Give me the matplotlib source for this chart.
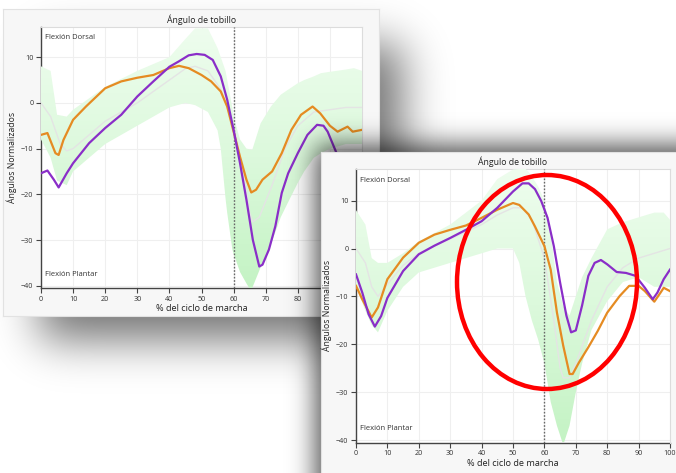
import math
import numpy as np
import matplotlib
matplotlib.use("Agg")
import matplotlib.pyplot as plt
from matplotlib.patches import Ellipse
from matplotlib.colors import LinearSegmentedColormap

# ---------------- data ----------------
title = "Ángulo de tobillo"
xlabel = "% del ciclo de marcha"
ylabel = "Ángulos Normalizados"
label_top = "Flexión Dorsal"
label_bottom = "Flexión Plantar"
xticks = [0, 10, 20, 30, 40, 50, 60, 70, 80, 90, 100]
yticks = [-40, -30, -20, -10, 0, 10]
toe_off = 60
# the back chart's last x tick labels are hidden behind the front chart
c1_xticklabels = ["0", "10", "20", "30", "40", "50", "60", "70", "80", "", ""]
c2_xticklabels = ["0", "10", "20", "30", "40", "50", "60", "70", "80", "90", "100"]

# chart 1 (back)
c1_orange_x = [0, 2, 4.5, 5.5, 7, 10, 14, 20, 25, 30, 35, 40, 43, 46, 50, 53, 56, 58, 60, 62, 64, 65.5, 67, 69, 72, 75, 78, 81, 84.6, 87, 90, 92.4, 95.5, 97.1, 100]
c1_orange_y = [-7.0, -6.6, -11.0, -11.4, -8.1, -3.7, -0.8, 3.2, 4.7, 5.5, 6.1, 7.6, 8.1, 7.6, 6.1, 4.7, 2.5, -0.8, -6.3, -11.8, -16.8, -19.6, -19.0, -16.8, -15.0, -11.0, -5.9, -2.6, -0.8, -2.3, -5.0, -6.3, -5.2, -6.3, -5.9]
c1_purple_x = [0, 2, 4, 5.5, 8, 10, 15, 20, 25, 30, 35, 40, 43, 46, 48.5, 51, 53.5, 56, 58, 60, 62, 64, 66, 68, 69, 71, 73, 75, 77, 80, 83, 86, 88, 89.3, 91.9, 94, 97, 100]
c1_purple_y = [-15.4, -14.8, -16.8, -18.5, -15.4, -13.2, -8.8, -5.5, -2.6, 1.4, 4.7, 7.9, 9.1, 10.4, 10.7, 10.5, 9.4, 5.8, 0.7, -5.9, -13.2, -21.2, -30.0, -35.8, -35.4, -32.1, -27.0, -19.7, -15.4, -11.0, -7.0, -4.8, -5.0, -6.3, -10.7, -14.0, -15.0, -13.0]
c1_mean_x = [0, 3, 6, 8, 10, 15, 20, 30, 40, 45, 48, 52, 56, 60, 63, 65, 66, 68, 72, 76, 80, 85, 90, 95, 100]
c1_mean_y = [0, -3, -9, -10.5, -10, -7, -4, 0, 5, 7.5, 8, 7, 3, -5, -15, -24, -26, -25, -18, -10, -5, -2, -1.5, -1, -1]
c1_band_x = [0, 3, 5, 8, 10, 15, 20, 30, 40, 45, 48, 52, 55, 56, 57.5, 58, 59.6, 60, 62, 64, 65.3, 65.8, 68.4, 71.6, 74.7, 76.8, 80, 82, 85, 87.2, 90, 95, 97.5, 100]
c1_band_hi = [8, 7, -2.6, -3, -1.5, 1, 3.5, 7, 10, 14, 16.3, 16.3, 12, 10, 7, 5, -1, -3, -8, -10, -10.2, -10.3, -4.5, -0.8, 1.8, 2.8, 4.3, 5, 5.8, 6.5, 6.8, 7.3, 7.6, 7]
c1_band_lo = [-8, -12, -17, -18, -15, -12, -9, -5, -1, 0, -0.5, -2, -6, -10, -21, -24, -32, -33, -37, -39.5, -41, -40.5, -36, -31, -25, -22, -17.5, -15, -12, -11, -10, -9, -9, -9]

# chart 2 (front)
c2_orange_x = [0, 2, 5, 7, 10, 15, 20, 25, 30, 35, 40, 45, 50, 52, 55, 57, 60, 62, 64, 66, 68, 69, 71, 74, 77, 80, 84, 87, 90, 92, 95, 97, 98, 100]
c2_orange_y = [-7.8, -10.6, -14.4, -12.3, -6.4, -1.9, 1.2, 2.9, 3.9, 4.8, 6.4, 8.1, 9.5, 9.1, 7.1, 4.6, 0.5, -4.4, -13.4, -20.3, -26.2, -26.2, -23.8, -20.6, -17.2, -13.4, -9.9, -7.8, -7.8, -8.9, -11.1, -9.2, -8.2, -8.9]
c2_purple_x = [0, 2, 4, 6, 8, 10, 15, 20, 25, 30, 35, 40, 45, 50, 53, 55, 57, 59, 61, 63, 65, 67, 68.5, 70, 72, 74, 76, 78, 80, 83, 86, 89, 92, 94.5, 96, 98, 100]
c2_purple_y = [-5.4, -9.2, -13.7, -16.3, -14.1, -10.3, -4.7, -1.2, 0.6, 2.2, 3.9, 5.7, 8.5, 11.9, 13.6, 13.6, 12.4, 9.9, 6.4, 0.5, -7.1, -14.0, -17.5, -17.1, -11.9, -5.7, -3.0, -2.4, -3.3, -4.9, -5.1, -5.7, -8.2, -10.6, -9.2, -6.4, -4.4]
c2_mean_x = [0, 3, 5, 7, 10, 15, 20, 30, 40, 45, 50, 53, 56, 60, 63, 65, 66, 68, 70, 75, 80, 85, 90, 95, 100]
c2_mean_y = [0, -3, -8, -10, -7.5, -3.5, -1, 2, 5, 7, 8.5, 8.5, 6, -2, -15, -25, -27, -27, -24, -15, -8, -4, -2, -1, 0]
c2_band_x = [0, 3, 5, 7, 10, 15, 20, 30, 40, 45, 50, 52, 54, 55, 56, 58, 60, 62, 64, 66, 68, 70, 72, 75, 80, 85, 90, 95, 98, 100]
c2_band_hi = [8, 5, -2, -3, -3, -1, 1.5, 5, 10, 14.5, 16.5, 16.6, 16.6, 16, 15, 13, 10, 3, -7, -12, -14, -10, -6, -2, 4, 5.5, 6.5, 7.5, 7.5, 6]
c2_band_lo = [-8, -13, -16, -17.5, -13, -8, -5, -3, -1, 0, 0, -3, -10, -12.5, -15, -19, -24, -32, -37, -41, -37, -30, -24, -17, -11, -7, -6, -8, -8, -8]

# ---------------- style ----------------
W, H = 676, 473
ORANGE = "#e58b22"
PURPLE = "#8a2ec8"
MEAN = "#e4e4e4"
BAND_CMAP = LinearSegmentedColormap.from_list("band", ["#c4f3c4", "#dcf9dc", "#eefdee"])
FONT = ["Open Sans", "DejaVu Sans"]
plt.rcParams["font.family"] = FONT

fig = plt.figure(figsize=(W / 100, H / 100), dpi=100)
fig.patch.set_facecolor("white")


def rect(x0, y0, x1, y1):
    return [x0 / W, (H - y1) / H, (x1 - x0) / W, (y1 - y0) / H]


erf = np.vectorize(math.erf)


def soft_rect(x0, x1, y0, y1, s):
    xs = np.arange(W) + 0.5
    ys = np.arange(H) + 0.5
    k = s * math.sqrt(2)
    fx = 0.5 * (erf((xs - x0) / k) - erf((xs - x1) / k))
    fy = 0.5 * (erf((ys - y0) / k) - erf((ys - y1) / k))
    return np.outer(fy, fx)


def shadow_axes(alpha, z):
    a = fig.add_axes([0, 0, 1, 1])
    a.set_zorder(z)
    a.patch.set_alpha(0)
    img = np.zeros((H, W, 4))
    img[..., 3] = np.clip(alpha, 0, 1)
    a.imshow(img, extent=(0, W, H, 0), interpolation="bilinear", aspect="auto")
    a.set_xlim(0, W)
    a.set_ylim(H, 0)
    a.axis("off")
    return a


def panel_axes(x0, y0, x1, y1, z):
    a = fig.add_axes(rect(x0, y0, x1, y1))
    a.set_zorder(z)
    a.set_facecolor("#f7f7f7")
    a.set_xticks([])
    a.set_yticks([])
    for sp in a.spines.values():
        sp.set_color("#e2e2e2")
        sp.set_linewidth(0.8)
    return a


def chart(box, z, ox, oy, px, py, mx, my, bx, bhi, blo, xtl):
    a = fig.add_axes(rect(*box))
    a.set_zorder(z)
    a.set_facecolor("white")
    a.grid(True, color="#efefef", linewidth=0.8)
    a.set_axisbelow(True)
    poly = a.fill_between(bx, blo, bhi, facecolor="none", edgecolor="none", linewidth=0)
    grad = np.linspace(0, 1, 256).reshape(-1, 1)
    im = a.imshow(grad, extent=(0, 100, -40.5, 16.6), origin="lower", aspect="auto",
                  cmap=BAND_CMAP, zorder=3, interpolation="bilinear")
    im.set_clip_path(poly.get_paths()[0], transform=a.transData)
    a.plot(mx, my, color=MEAN, linewidth=1.0, zorder=4)
    a.axvline(toe_off, color="#666666", linestyle=(0, (1.2, 1.2)), linewidth=1.0, zorder=4)
    a.plot(ox, oy, color=ORANGE, linewidth=1.6, zorder=5, solid_joinstyle="round")
    a.plot(px, py, color=PURPLE, linewidth=1.6, zorder=6, solid_joinstyle="round")
    a.set_xlim(0, 100)
    a.set_ylim(-40.5, 16.6)
    a.set_xticks(xticks)
    a.set_xticklabels(xtl)
    a.set_yticks(yticks)
    for s in ("top", "right"):
        a.spines[s].set_color("#dcdcdc")
        a.spines[s].set_linewidth(0.8)
    for s in ("left", "bottom"):
        a.spines[s].set_color("#444444")
        a.spines[s].set_linewidth(1.0)
        a.spines[s].set_zorder(2)
    a.tick_params(axis="both", direction="out", length=3.5, width=0.8, color="#444444",
                  labelsize=5.2, labelcolor="#333333", pad=2)
    a.set_title(title, fontsize=6.3, color="#222222", pad=3)
    a.set_xlabel(xlabel, fontsize=6.6, color="#222222", labelpad=1)
    a.set_ylabel(ylabel, fontsize=6.2, color="#222222", labelpad=2.5)
    a.text(1.3, 14.3, label_top, fontsize=5.5, color="#333333", va="center", ha="left", zorder=7)
    a.text(1.3, -37.5, label_bottom, fontsize=5.5, color="#333333", va="center", ha="left", zorder=7)
    return a


# shadow of the back panel
shadow_axes(0.55 * soft_rect(40, 402, 45, 340, 22), 0)
# back panel + chart
panel_axes(3, 9, 379, 316, 1)
chart((41, 27, 362, 288), 2, c1_orange_x, c1_orange_y, c1_purple_x, c1_purple_y,
      c1_mean_x, c1_mean_y, c1_band_x, c1_band_hi, c1_band_lo, c1_xticklabels)
# shadow of the front panel
shadow_axes(0.7 * soft_rect(316, 760, 146, 560, 13), 3)
# front panel + chart
panel_axes(321, 152, 690, 490, 4)
chart((356, 169, 670, 442.5), 5, c2_orange_x, c2_orange_y, c2_purple_x, c2_purple_y,
      c2_mean_x, c2_mean_y, c2_band_x, c2_band_hi, c2_band_lo, c2_xticklabels)

# red highlight ellipse
ov = fig.add_axes([0, 0, 1, 1])
ov.set_zorder(10)
ov.patch.set_alpha(0)
ov.set_xlim(0, W)
ov.set_ylim(H, 0)
ov.axis("off")
ov.add_patch(Ellipse((547, 282), 180, 214, fill=False, edgecolor="#ff0000", linewidth=3.2))

fig.savefig("out.png", dpi=100)
